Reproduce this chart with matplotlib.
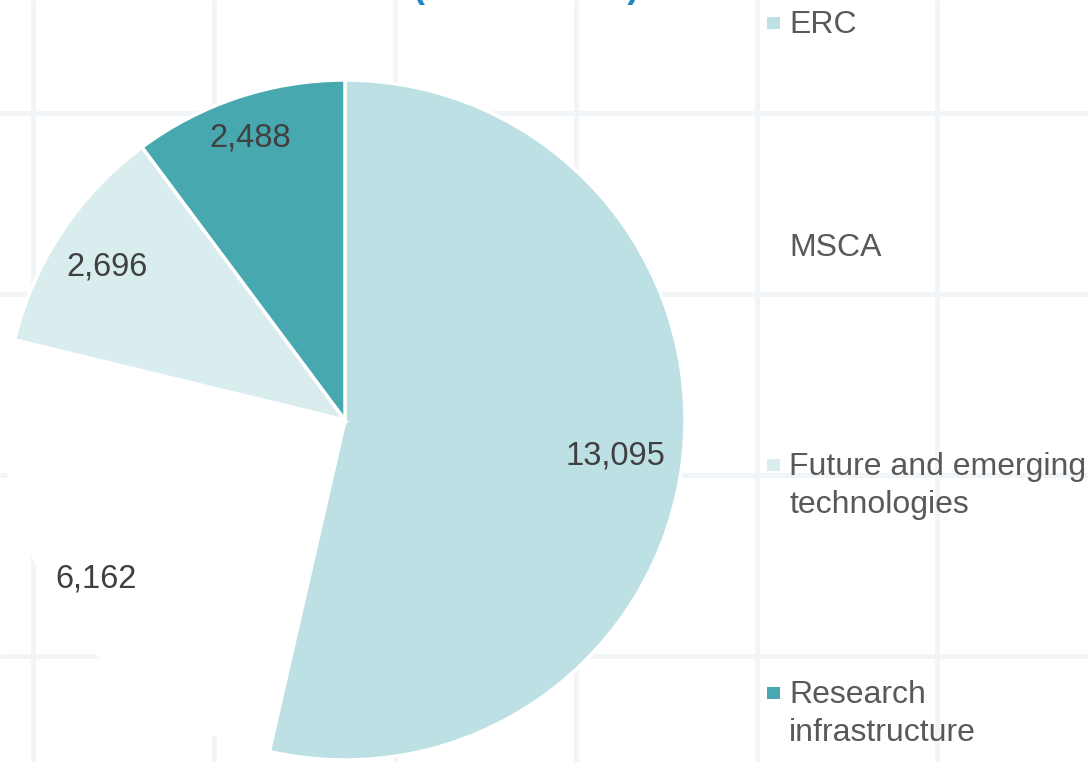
import matplotlib
matplotlib.use("Agg")
import matplotlib.pyplot as plt
from matplotlib.patches import Rectangle
import numpy as np

# ---- data ----
categories = ["ERC", "MSCA", "Future and emerging\ntechnologies", "Research\ninfrastructure"]
values = [13095, 6162, 2696, 2488]
value_labels = ["13,095", "6,162", "2,696", "2,488"]
colors = ["#bce0e3", "#ffffff", "#d9edee", "#48a8b0"]
title_text = "(EUR million)"

# ---- style / layout ----
W, H = 1088, 762
plt.rcParams['font.family'] = ['Liberation Sans', 'DejaVu Sans']
fig = plt.figure(figsize=(W / 100, H / 100), dpi=100)
ax = fig.add_axes([0, 0, 1, 1])

cx, cy = 345, H - 420
radius = 340

# background faint grid
grid_x = [33, 214, 395, 576, 757, 937]
grid_y = [113, 294, 475, 656]
for gx in grid_x:
    ax.plot([gx, gx], [0, H], color="#f2f5f7", lw=3.5, zorder=0, solid_capstyle="butt")
for gy in grid_y:
    ax.plot([0, W], [H - gy, H - gy], color="#f2f5f7", lw=3.5, zorder=0, solid_capstyle="butt")

wedges, _ = ax.pie(values, colors=colors, startangle=90, counterclock=False,
                   center=(cx, cy), radius=radius,
                   wedgeprops=dict(edgecolor="white", linewidth=2.5), frame=True)
for w in wedges:
    w.set_zorder(2)

# data labels
label_dist = [0.80, 0.86, 0.84, 0.89]
for w, lab, d in zip(wedges, value_labels, label_dist):
    mid = np.deg2rad((w.theta1 + w.theta2) / 2)
    ax.text(cx + d * radius * np.cos(mid), cy + d * radius * np.sin(mid) - 5, lab,
            ha="center", va="center", fontsize=23.5, color="#404040", zorder=5)

# title (mostly cropped above the canvas)
ax.text(526, H + 3, title_text, ha="center", va="baseline", fontsize=26,
        fontweight="bold", color="#1a8ac6", zorder=5, clip_on=False)

# legend (manual, first-line baselines in pixels from top)
legend_baseline = [33, 256, 475, 703]
line_gap = 38
for cat, col, yb in zip(categories, colors, legend_baseline):
    ax.add_patch(Rectangle((767, H - yb + 4), 12.5, 12.5, facecolor=col,
                           edgecolor="none", zorder=5))
    for i, line in enumerate(cat.split("\n")):
        ax.text(789, H - yb - i * line_gap, line, ha="left", va="baseline",
                fontsize=23, color="#595959", zorder=5)

ax.set_xlim(0, W)
ax.set_ylim(0, H)
ax.set_aspect("auto")
ax.axis("off")

fig.savefig("out.png", dpi=100, facecolor="white")
